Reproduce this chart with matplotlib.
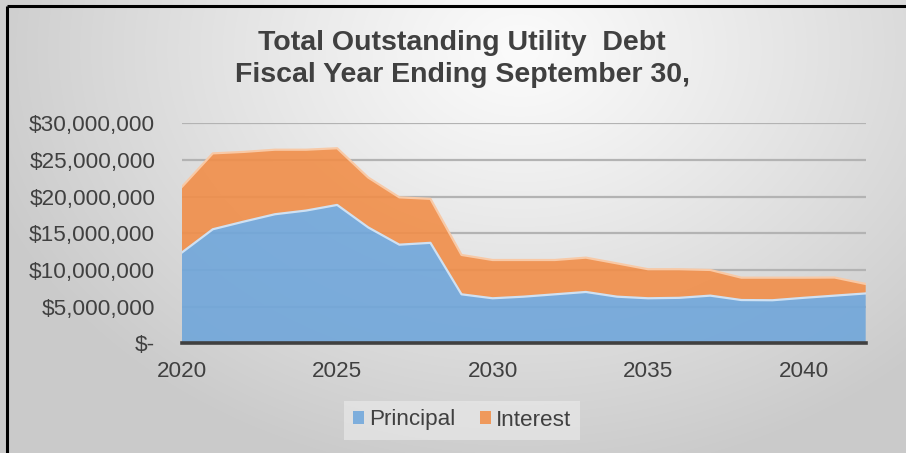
import numpy as np
import matplotlib
matplotlib.use("Agg")
import matplotlib.pyplot as plt
from matplotlib.patches import Patch
from matplotlib.ticker import FuncFormatter

plt.rcParams["font.family"] = ["Liberation Sans", "DejaVu Sans"]

# Fiscal years and outstanding debt components (dollars)
years = list(range(2020, 2043))
principal = [12.36e6, 15.55e6, 16.6e6, 17.6e6, 18.1e6, 18.87e6, 15.8e6, 13.45e6,
             13.7e6, 6.68e6, 6.14e6, 6.36e6, 6.68e6, 7.0e6, 6.36e6, 6.14e6,
             6.2e6, 6.5e6, 5.9e6, 5.87e6, 6.2e6, 6.5e6, 6.8e6]
total = [21.3e6, 25.9e6, 26.1e6, 26.4e6, 26.4e6, 26.6e6, 22.6e6, 19.9e6,
         19.7e6, 12.05e6, 11.36e6, 11.36e6, 11.36e6, 11.68e6, 10.9e6, 10.1e6,
         10.1e6, 10.0e6, 8.95e6, 8.95e6, 8.95e6, 8.97e6, 8.09e6]
interest = [t - p for t, p in zip(total, principal)]

series_names = ["Principal", "Interest"]
xticks = [2020, 2025, 2030, 2035, 2040]
yticks = [0, 5e6, 10e6, 15e6, 20e6, 25e6, 30e6]

W, H = 906, 453
fig = plt.figure(figsize=(W / 100, H / 100), dpi=100)

# Radial grey background
bg = fig.add_axes([0, 0, 1, 1], zorder=-10)
yy, xx = np.mgrid[0:H, 0:W]
r = np.sqrt(((xx - 520) / 560.0) ** 2 + ((yy - 50) / 430.0) ** 2)
r = np.clip(r, 0, 1)
val = 0.985 - 0.19 * r ** 1.1
bg.imshow(np.dstack([val, val, val]), extent=[0, W, H, 0], aspect="auto",
          interpolation="bilinear")
bg.set_xlim(0, W)
bg.set_ylim(H, 0)
bg.axis("off")
# frame lines along top and left
bg.plot([7, W], [5.5, 5.5], color="black", lw=2.2, solid_capstyle="butt")
bg.plot([7, 7], [5.5, H], color="black", lw=2.2, solid_capstyle="butt")

ax = fig.add_axes([181.7 / W, 1 - 343.3 / H, (865.7 - 181.7) / W, (343.3 - 123.3) / H])
ax.patch.set_alpha(0)

blue = "#70a6da"
orange = "#f18e49"
ax.stackplot(years, principal, interest, colors=[blue, orange], alpha=0.9,
             zorder=2, linewidth=0)
ax.plot(years, principal, color="#cfe1f3", lw=1.6, zorder=3)
ax.plot(years, total, color="#f8c9a6", lw=1.6, zorder=3)

ax.set_xlim(2020, 2042)
ax.set_ylim(0, 30e6)
ax.set_yticks(yticks)
ax.set_xticks(xticks)
ax.yaxis.grid(True, color="#b3b3b3", lw=1.6, zorder=1)
ax.set_axisbelow(True)
for s in ["top", "right", "left"]:
    ax.spines[s].set_visible(False)
ax.spines["bottom"].set_color("#404040")
ax.spines["bottom"].set_linewidth(2.6)
ax.spines["bottom"].set_zorder(5)


def money(v, pos):
    if v == 0:
        return "$-"
    return "${:,.0f}".format(v)


ax.yaxis.set_major_formatter(FuncFormatter(money))
ax.tick_params(axis="both", length=0, labelsize=16.2, colors="#404040")
ax.tick_params(axis="y", pad=19)
ax.tick_params(axis="x", pad=13)

fig.text(0.51, 1 - 43 / H, "Total Outstanding Utility  Debt", ha="center", va="center",
         fontsize=20.5, fontweight="bold", color="#404040")
fig.text(0.51, 1 - 75 / H, "Fiscal Year Ending September 30,", ha="center", va="center",
         fontsize=20.5, fontweight="bold", color="#404040")

handles = [Patch(facecolor="#7eaedc", edgecolor="none"),
           Patch(facecolor="#ef995c", edgecolor="none")]
leg = fig.legend(handles, series_names, loc="center", bbox_to_anchor=(462 / W, 1 - 420 / H),
                 ncol=2, fontsize=16.2, frameon=True, fancybox=False,
                 handlelength=0.5, handleheight=0.5, handletextpad=0.2,
                 columnspacing=1.1, borderpad=0.4, borderaxespad=0)
leg.get_frame().set_facecolor("#ececec")
leg.get_frame().set_alpha(0.6)
leg.get_frame().set_edgecolor("none")
for t in leg.get_texts():
    t.set_color("#404040")

fig.savefig("out.png", dpi=100)
